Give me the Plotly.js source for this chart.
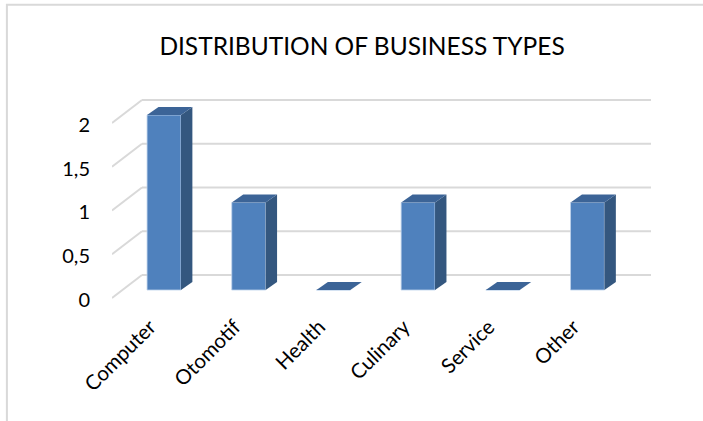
<!DOCTYPE html>
<html>
<head>
<meta charset="utf-8">
<script src="https://cdn.plot.ly/plotly-3.0.1.min.js"></script>
<style>html,body{margin:0;padding:0;background:#fff;}#chart{width:703px;height:421px;}</style>
</head>
<body>
<div id="chart"></div>
<script>
// ---- data ----
const categories = ['Computer', 'Otomotif', 'Health', 'Culinary', 'Service', 'Other'];
const values = [2, 1, 0, 1, 0, 1];
const yTickValues = [0, 0.5, 1, 1.5, 2];
const yTickLabels = ['0', '0,5', '1', '1,5', '2'];
const chartTitle = 'DISTRIBUTION OF BUSINESS TYPES';

// ---- style ----
const FRONT = '#4F81BD', SIDE = '#34577F', TOP = '#3C6497';
const BAR_W = 0.40, DX = 0.135, DY = 0.092;
const WALL_BACK_X = -0.26, WALL_BACK_Y = 0.171, WALL_FRONT_Y = -0.091;
const LABEL_Y_SHIFT = -0.02;
const X_MIN = -0.614, X_MAX = 5.75;
const GRID = '#D9D9D9';
const FONT = 'Lato, "Open Sans", sans-serif';

const xIdx = categories.map((c, i) => i);
const shapes = [];

// back wall gridlines + floor diagonals
yTickValues.forEach(v => {
  shapes.push({type: 'line', layer: 'below', xref: 'x', yref: 'y',
    x0: WALL_BACK_X, y0: v + WALL_BACK_Y, x1: X_MAX, y1: v + WALL_BACK_Y,
    line: {color: GRID, width: 2}});
  shapes.push({type: 'line', layer: 'below', xref: 'x', yref: 'y',
    x0: X_MIN, y0: v + WALL_FRONT_Y, x1: WALL_BACK_X, y1: v + WALL_BACK_Y,
    line: {color: GRID, width: 2}});
});

// 3D side and top faces
values.forEach((v, i) => {
  const x0 = xIdx[i] - BAR_W / 2, x1 = xIdx[i] + BAR_W / 2;
  if (v > 0) {
    shapes.push({type: 'path', layer: 'above', xref: 'x', yref: 'y',
      path: `M ${x1},0 L ${x1},${v} L ${x1 + DX},${v + DY} L ${x1 + DX},${DY} Z`,
      fillcolor: SIDE, line: {width: 0}});
  }
  shapes.push({type: 'path', layer: 'above', xref: 'x', yref: 'y',
    path: `M ${x0},${v} L ${x1},${v} L ${x1 + DX},${v + DY} L ${x0 + DX},${v + DY} Z`,
    fillcolor: TOP, line: {width: 0}});
});

// chart area border
shapes.push({type: 'rect', xref: 'paper', yref: 'paper', layer: 'below',
  x0: -0.195, y0: -2, x1: 3, y1: 1.44, line: {color: GRID, width: 2}, fillcolor: 'rgba(0,0,0,0)'});

const trace = {
  type: 'bar', x: xIdx, y: values, width: BAR_W,
  marker: {color: FRONT, line: {color: 'rgba(190,210,235,0.8)', width: 1}},
  hoverinfo: 'skip'
};

const layout = {
  width: 703, height: 421,
  margin: {l: 112, r: 52, t: 95, b: 121},
  paper_bgcolor: '#fff', plot_bgcolor: 'rgba(0,0,0,0)',
  showlegend: false,
  title: {text: chartTitle, font: {family: FONT, size: 24.5, color: '#000'},
    x: 0.515, xanchor: 'center', y: 1 - 46 / 421, yanchor: 'middle', yref: 'container'},
  xaxis: {range: [X_MIN, X_MAX], tickvals: xIdx, ticktext: categories, tickangle: -45,
    showgrid: false, zeroline: false, showline: false, ticks: '',
    tickfont: {family: FONT, size: 20.5, color: '#000'}, ticklabelstandoff: 10, ticklabelshift: -14},
  yaxis: {range: [-0.114, 2.229], tickvals: yTickValues.map(v => v + WALL_FRONT_Y + LABEL_Y_SHIFT), ticktext: yTickLabels,
    showgrid: false, zeroline: false, showline: false, ticks: '',
    tickfont: {family: FONT, size: 20, color: '#000'}, ticklabelstandoff: 21},
  shapes: shapes
};

Plotly.newPlot('chart', [trace], layout, {displayModeBar: false, staticPlot: true});
</script>
</body>
</html>
